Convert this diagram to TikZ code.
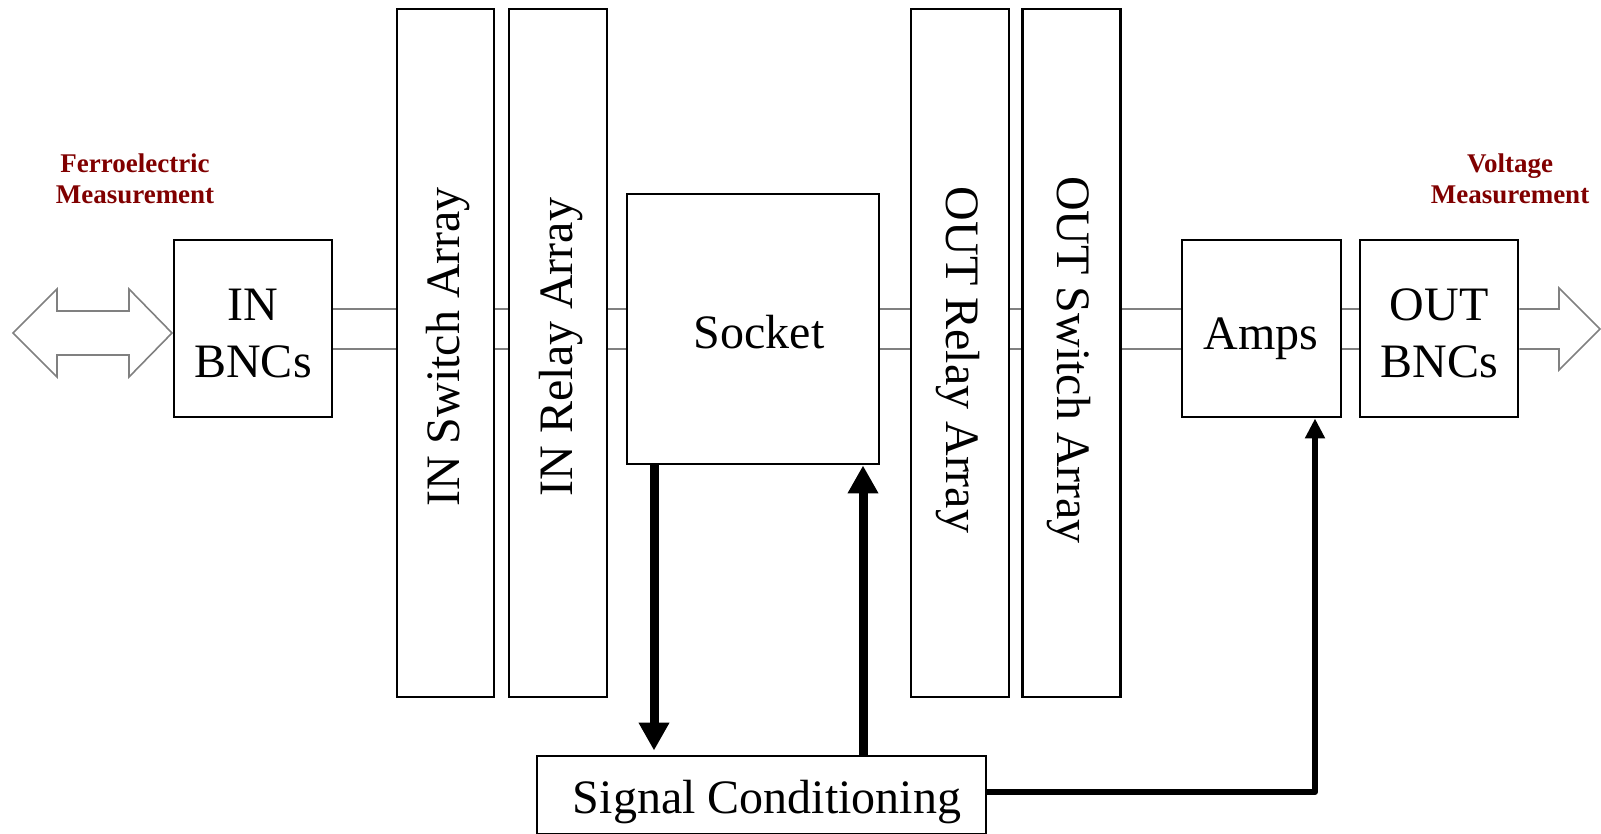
\documentclass[tikz,border=0pt]{standalone}
\usepackage{fontspec}
\setmainfont{Liberation Serif}
\usetikzlibrary{arrows.meta}
\definecolor{darkred}{RGB}{128,0,0}
\definecolor{wiregray}{RGB}{128,128,128}
\begin{document}
\begin{tikzpicture}[x=1pt,y=-1pt,
  blk/.style={draw=black,line width=2.9pt,inner sep=0pt,fill=white},
  bigtext/.style={font=\fontsize{48}{57}\selectfont,inner sep=0pt,align=center},
  redlabel/.style={font=\fontsize{27}{31}\selectfont\bfseries,text=darkred,inner sep=0pt,align=center},
  wire/.style={draw=wiregray,line width=1.6pt},
  openarrow/.style={draw=wiregray,line width=1.6pt,line join=miter},
  thickarrow/.style={line width=9pt,-{Triangle[width=29pt,length=28pt]}},
  ctrlarrow/.style={line width=6pt,line join=round,-{Triangle[width=19pt,length=20pt]}}]
\useasboundingbox (0,0) rectangle (1601,833);

% blocks
\node[blk,minimum width=158pt,minimum height=177pt] (inb) at (253,328.5) {};
\node[blk,minimum width=97pt,minimum height=688pt] (insw) at (445.5,353) {};
\node[blk,minimum width=98pt,minimum height=688pt] (inrl) at (558,353) {};
\node[blk,minimum width=252pt,minimum height=270pt] (sock) at (753,329) {};
\node[blk,minimum width=98pt,minimum height=688pt] (outrl) at (960,353) {};
\node[blk,minimum width=98pt,minimum height=688pt] (outsw) at (1071.5,353) {};
\node[blk,minimum width=159pt,minimum height=177pt] (amps) at (1261.5,328.5) {};
\node[blk,minimum width=158pt,minimum height=177pt] (outb) at (1439,328.5) {};
\node[blk,minimum width=449pt,minimum height=78pt] (sc) at (761.5,795) {};

% texts
\node[bigtext] (tinb) at ([yshift=-5pt]inb.center) {IN\\BNCs};
\node[bigtext,rotate=90] (tinsw) at (448,347) {IN Switch Array};
\node[bigtext,rotate=90] (tinrl) at (561,347) {IN Relay Array};
\node[bigtext,anchor=base] (tsock) at (759,348) {Socket};
\node[bigtext,rotate=-90] (toutrl) at (958,360) {OUT Relay Array};
\node[bigtext,rotate=-90] (toutsw) at (1069,360) {OUT Switch Array};
\node[bigtext,anchor=base] (tamps) at (1261,349) {Amps};
\node[bigtext] (toutb) at ([yshift=-5pt]outb.center) {OUT\\BNCs};
\node[bigtext,anchor=base] (tsc) at (767,813) {Signal Conditioning};

\node[redlabel] (lfe) at (135,179) {Ferroelectric\\Measurement};
\node[redlabel] (lvm) at (1510,179) {Voltage\\Measurement};

% wires
\coordinate (ya) at (0,309);
\coordinate (yb) at (0,349);
\foreach \a/\b in {inb/insw,insw/inrl,inrl/sock,sock/outrl,outrl/outsw,outsw/amps,amps/outb}{
  \draw[wire] (\a.east |- ya) -- (\b.west |- ya);
  \draw[wire] (\a.east |- yb) -- (\b.west |- yb);
}

% open arrows
\draw[openarrow] (57,311) -- (129,311) -- (129,289) -- (172,333) -- (129,377) -- (129,355)
  -- (57,355) -- (57,377) -- (13,333) -- (57,289) -- cycle;
\draw[openarrow] (outb.east |- ya) -- (1559,309) -- (1559,288) -- (1600,329) -- (1559,370)
  -- (1559,349) -- (outb.east |- yb);

% control arrows
\coordinate (xd) at (654,0);
\coordinate (xu) at (863,0);
\coordinate (xa) at (1315,0);
\draw[thickarrow,shorten >=4pt] (sock.south -| xd) -- (sc.north -| xd);
\draw[thickarrow] (sc.north -| xu) -- (sock.south -| xu);
\draw[ctrlarrow] ([yshift=3pt]sc.east) -| (amps.south -| xa);
\end{tikzpicture}
\end{document}
